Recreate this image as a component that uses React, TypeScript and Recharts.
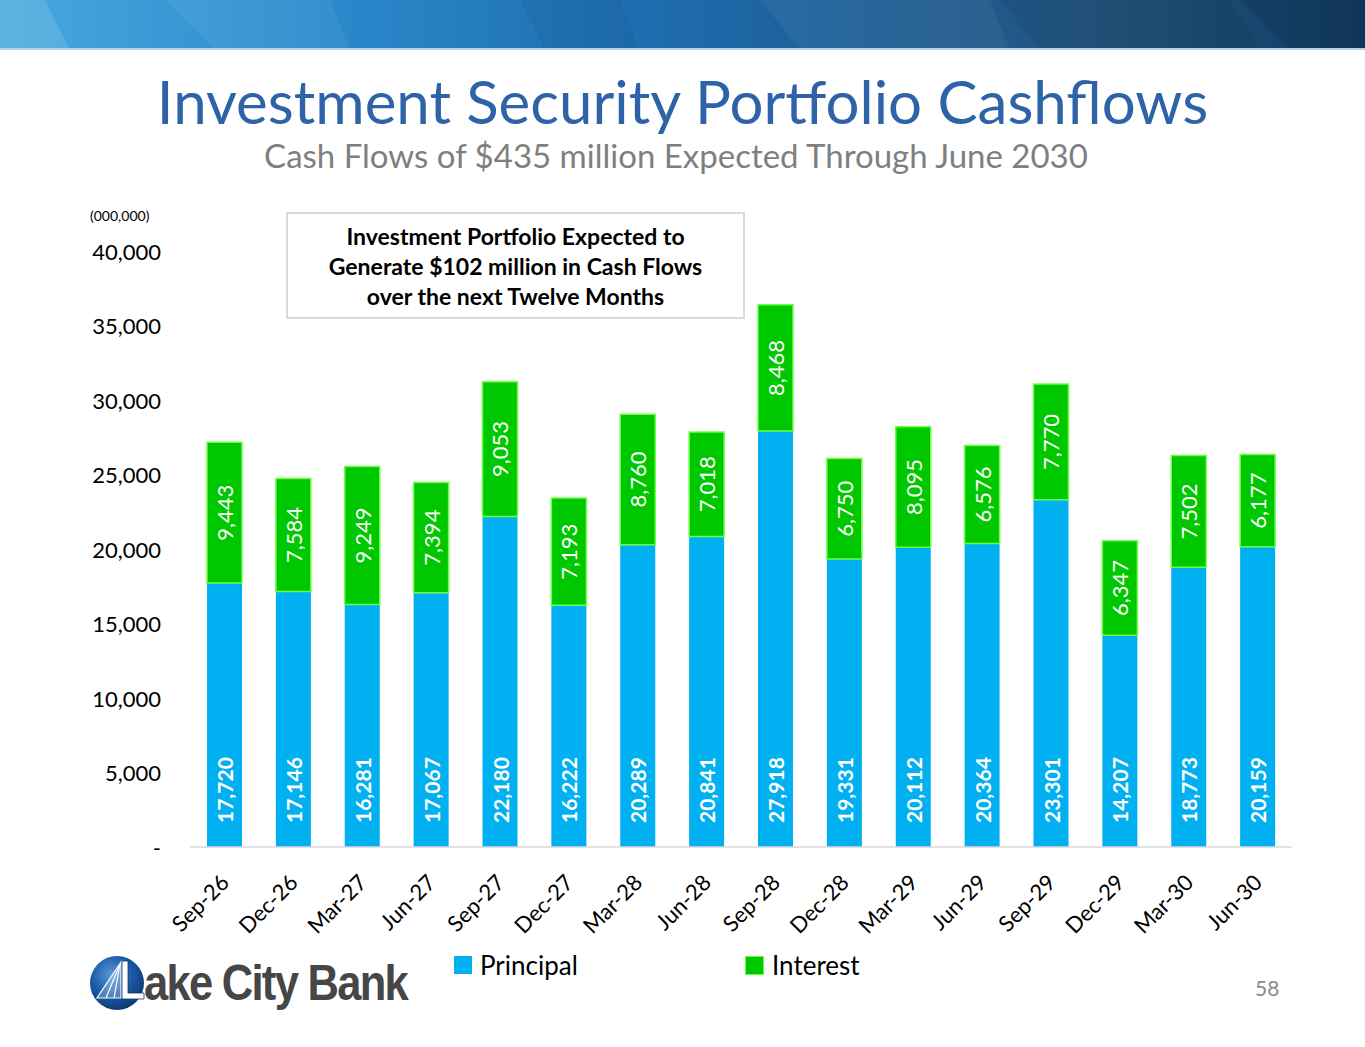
import React from 'react';
import { BarChart, Bar, XAxis, YAxis, Legend, LabelList } from 'recharts';

const categories = ['Sep-26', 'Dec-26', 'Mar-27', 'Jun-27', 'Sep-27', 'Dec-27', 'Mar-28', 'Jun-28',
  'Sep-28', 'Dec-28', 'Mar-29', 'Jun-29', 'Sep-29', 'Dec-29', 'Mar-30', 'Jun-30'];
const principal = [17720, 17146, 16281, 17067, 22180, 16222, 20289, 20841, 27918, 19331, 20112, 20364, 23301, 14207, 18773, 20159];
const interest = [9443, 7584, 9249, 7394, 9053, 7193, 8760, 7018, 8468, 6750, 8095, 6576, 7770, 6347, 7502, 6177];
const yTicks = [0, 5000, 10000, 15000, 20000, 25000, 30000, 35000, 40000];

const data = categories.map((name, i) => ({ name, principal: principal[i], interest: interest[i] }));

const FONT = 'Lato, "Open Sans", sans-serif';
const BLUE = '#00B0F0';
const GREEN = '#00C800';

const fmt = (v: number) => (v === 0 ? '-' : v.toLocaleString('en-US'));

const PrincipalLabel = (props: any) => {
  const { x, y, width, height, value } = props;
  const cx = x + width / 2;
  const by = y + height - 24;
  return (
    <text x={cx} y={by} transform={`rotate(-90 ${cx} ${by})`} textAnchor="start" dominantBaseline="central"
      fill="#fff" fontWeight="bold" fontSize={21} fontFamily={FONT}>
      {fmt(value)}
    </text>
  );
};

const InterestLabel = (props: any) => {
  const { x, y, width, height, value } = props;
  const cx = x + width / 2;
  const cy = y + height / 2;
  return (
    <text x={cx} y={cy} transform={`rotate(-90 ${cx} ${cy})`} textAnchor="middle" dominantBaseline="central"
      fill="#fff" fontSize={22} fontFamily={FONT}>
      {fmt(value)}
    </text>
  );
};

const XTick = (props: any) => {
  const { x, y, payload } = props;
  return (
    <g transform={`translate(${x + 6},${y + 29})`}>
      <text textAnchor="end" transform="rotate(-45)" fill="#000" fontSize={22} fontFamily={FONT}>
        {payload.value}
      </text>
    </g>
  );
};

const YTick = (props: any) => {
  const { x, y, payload } = props;
  return (
    <text x={x - 3} y={y} textAnchor="end" dominantBaseline="central" fill="#000" fontSize={22} fontFamily={FONT}>
      {fmt(payload.value)}
    </text>
  );
};

const LegendContent = () => (
  <div style={{ display: 'flex', height: 34, fontFamily: FONT, fontSize: 26, color: '#000', paddingLeft: 454 }}>
    <div style={{ display: 'flex', alignItems: 'center', width: 291 }}>
      <span style={{ width: 18, height: 18, background: BLUE, marginRight: 8, display: 'inline-block' }} />
      Principal
    </div>
    <div style={{ display: 'flex', alignItems: 'center' }}>
      <span style={{ width: 17, height: 17, background: GREEN, border: '1px solid #66ff44', marginRight: 8, display: 'inline-block' }} />
      Interest
    </div>
  </div>
);

const Banner = () => (
  <div style={{ position: 'absolute', left: 0, top: 0, width: 1365, height: 50, overflow: 'hidden',
    background: 'linear-gradient(90deg, #47a9dd 0%, #2b8ccd 22%, #1f6fb3 45%, #1d5e98 62%, #22557f 80%, #113c63 100%)' }}>
    <svg width={1365} height={50} style={{ position: 'absolute', left: 0, top: 0 }}>
      <polygon points="0,0 45,0 70,50 0,50" fill="rgba(255,255,255,0.12)" />
      <polygon points="165,0 330,0 350,50 215,50" fill="rgba(255,255,255,0.06)" />
      <polygon points="520,0 620,0 640,50 545,50" fill="rgba(0,0,0,0.05)" />
      <polygon points="760,0 990,0 1010,50 800,50" fill="rgba(255,255,255,0.05)" />
      <polygon points="1000,0 1230,0 1260,50 1040,50" fill="rgba(0,0,0,0.06)" />
      <polygon points="1240,0 1365,0 1365,50 1290,50" fill="rgba(0,0,0,0.1)" />
    </svg>
    <div style={{ position: 'absolute', left: 0, top: 48, width: 1365, height: 2, background: '#a9d4ef' }} />
  </div>
);

const Logo = () => (
  <svg width={420} height={80} style={{ position: 'absolute', left: 80, top: 945 }}>
    <defs>
      <radialGradient id="lg" cx="40%" cy="35%" r="70%">
        <stop offset="0%" stopColor="#5a9ad8" />
        <stop offset="55%" stopColor="#1a5aa6" />
        <stop offset="100%" stopColor="#0b356f" />
      </radialGradient>
    </defs>
    <circle cx={37} cy={38} r={27} fill="url(#lg)" />
    <polygon points="41,17 17,53 41,53" fill="rgba(255,255,255,0.25)" stroke="#fff" strokeWidth={1.2} />
    <line x1={40} y1={19} x2={26} y2={53} stroke="#fff" strokeWidth={1.2} />
    <line x1={40} y1={19} x2={34} y2={53} stroke="#fff" strokeWidth={1.2} />
    <polygon points="42,16 48,16 48,48 64,48 64,54 42,54" fill="#fff" stroke="#0b356f" strokeWidth={0.8} />
    <text x={64} y={55} fontFamily='"Liberation Sans", Arial, sans-serif' fontWeight="bold" fontSize={50}
      fill="#464646" textLength={263} lengthAdjust="spacingAndGlyphs" letterSpacing={-2}>ake City Bank</text>
  </svg>
);

export default function App() {
  return (
    <div style={{ position: 'absolute', left: 0, top: 0, width: 1365, height: 1047, background: '#fff', overflow: 'hidden', fontFamily: FONT }}>
      <Banner />
      <div style={{ position: 'absolute', left: 0, top: 66, width: 1365, textAlign: 'center', fontSize: 60, color: '#2E63A8', lineHeight: '70px' }}>
        Investment Security Portfolio Cashflows
      </div>
      <div style={{ position: 'absolute', left: 0, top: 135, width: 1352, textAlign: 'center', fontSize: 33, color: '#7f7f7f', lineHeight: '40px' }}>
        Cash Flows of $435 million Expected Through June 2030
      </div>
      <div style={{ position: 'absolute', left: 90, top: 207, fontSize: 14, color: '#000' }}>(000,000)</div>

      <div style={{ position: 'absolute', left: 0, top: 0 }}>
        <BarChart width={1365} height={1047} data={data}
          margin={{ top: 251, right: 73, bottom: 76, left: 90 }} barSize={35}>
          <XAxis dataKey="name" axisLine={{ stroke: '#d9d9d9', strokeWidth: 1.5 }} tickLine={false}
            tick={<XTick />} interval={0} height={90} />
          <YAxis domain={[0, 40000]} ticks={yTicks} axisLine={false} tickLine={false} width={100}
            tick={<YTick />} tickMargin={20} />
          <Legend verticalAlign="bottom" align="left" content={<LegendContent />}
            wrapperStyle={{ position: 'absolute', left: 0, top: 948, width: 1365, height: 34 }} />
          <Bar dataKey="principal" name="Principal" stackId="a" fill={BLUE} isAnimationActive={false}>
            <LabelList dataKey="principal" content={<PrincipalLabel />} />
          </Bar>
          <Bar dataKey="interest" name="Interest" stackId="a" fill={GREEN} stroke="#6cff45" strokeWidth={1.5} isAnimationActive={false}>
            <LabelList dataKey="interest" content={<InterestLabel />} />
          </Bar>
        </BarChart>
      </div>

      <div style={{ position: 'absolute', left: 286, top: 212, width: 455, height: 103, border: '2px solid #d9d9d9',
        background: '#fff', display: 'flex', alignItems: 'center', justifyContent: 'center', textAlign: 'center',
        fontWeight: 'bold', fontSize: 23, lineHeight: '30px', color: '#000' }}>
        <div>Investment Portfolio Expected to<br />Generate $102 million in Cash Flows<br />over the next Twelve Months</div>
      </div>

      <Logo />
      <div style={{ position: 'absolute', left: 1255, top: 975, fontSize: 21, color: '#8c8c8c' }}>58</div>
    </div>
  );
}
